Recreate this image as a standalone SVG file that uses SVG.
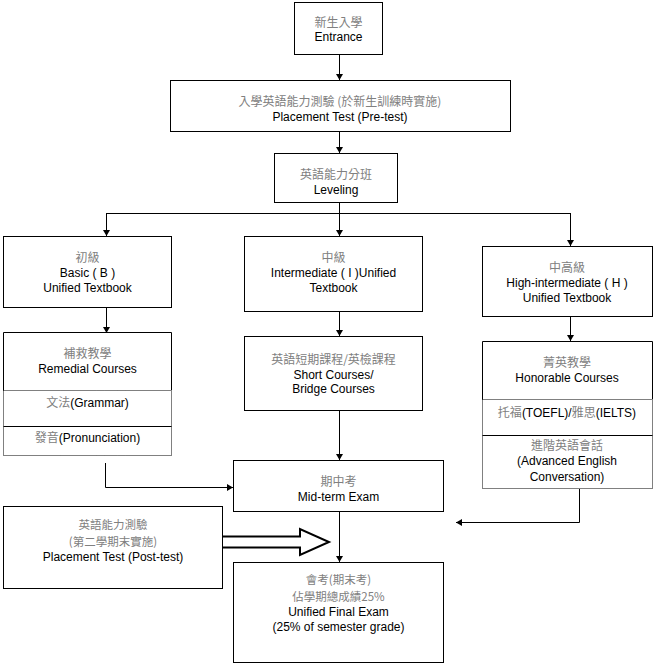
<svg xmlns="http://www.w3.org/2000/svg" width="654" height="666" viewBox="0 0 654 666">
<style>
.box{fill:#fff;stroke:#000;stroke-width:1}
.sol{fill:none;stroke:#000;stroke-width:1}
.dot{fill:none;stroke:#000;stroke-width:1;stroke-dasharray:1,1}
.ln{fill:none;stroke:#000;stroke-width:1}
text{font-family:"Liberation Sans","Noto Sans CJK TC",Arial,sans-serif;font-size:12px;fill:#000;text-anchor:middle}
.zh{fill:#808080;font-size:12px;font-family:"Noto Sans CJK TC","Liberation Sans",sans-serif}
.zs{font-size:11.5px}
</style>
<defs>
<marker id="ah" markerWidth="8" markerHeight="8" refX="6" refY="3.5" orient="auto" markerUnits="userSpaceOnUse">
<path d="M0,0 L6,3.5 L0,7 z" fill="#000"/>
</marker>
</defs>
<rect width="654" height="666" fill="#fff"/>
<g id="connectors">
<line class="ln" x1="339.5" y1="54" x2="339.5" y2="80" marker-end="url(#ah)"/>
<line class="ln" x1="339.5" y1="131" x2="339.5" y2="153" marker-end="url(#ah)"/>
<polyline class="ln" points="339.5,202 339.5,213.5"/>
<line class="ln" x1="106" y1="213.5" x2="571" y2="213.5"/>
<line class="ln" x1="106.5" y1="213.5" x2="106.5" y2="236" marker-end="url(#ah)"/>
<line class="ln" x1="339.5" y1="213.5" x2="339.5" y2="236" marker-end="url(#ah)"/>
<line class="ln" x1="570.5" y1="213.5" x2="570.5" y2="246" marker-end="url(#ah)"/>
<line class="ln" x1="106.5" y1="307" x2="106.5" y2="333" marker-end="url(#ah)"/>
<line class="ln" x1="339.5" y1="311" x2="339.5" y2="336" marker-end="url(#ah)"/>
<line class="ln" x1="570.5" y1="316" x2="570.5" y2="341" marker-end="url(#ah)"/>
<line class="ln" x1="339.5" y1="410" x2="339.5" y2="460" marker-end="url(#ah)"/>
<polyline class="ln" points="105.5,463 105.5,487.5 233,487.5" marker-end="url(#ah)"/>
<polyline class="ln" points="579.5,489 579.5,522.5 456,522.5" marker-end="url(#ah)"/>
<line class="ln" x1="339.5" y1="511" x2="339.5" y2="562" marker-end="url(#ah)"/>
<polygon points="222,536.5 300,536.5 300,529 329,542 300,555 300,547.5 222,547.5" fill="#fff" stroke="#000" stroke-width="2"/>
</g>
<g id="entrance">
<rect class="box" x="294.5" y="2.5" width="88" height="52"/>
<text x="338.5" y="27"><tspan class="zh">新生入學</tspan></text>
<text x="338.5" y="41">Entrance</text>
</g>
<g id="pretest">
<rect class="box" x="170.5" y="80.5" width="340" height="51"/>
<text x="340" y="106"><tspan class="zh">入學英語能力測驗 (於新生訓練時實施)</tspan></text>
<text x="340" y="121">Placement Test (Pre-test)</text>
</g>
<g id="leveling">
<rect class="box" x="274.5" y="153.5" width="123" height="49"/>
<text x="336" y="179"><tspan class="zh">英語能力分班</tspan></text>
<text x="336" y="194">Leveling</text>
</g>
<g id="basic">
<rect class="box" x="3.5" y="236.5" width="168" height="71"/>
<text x="87.5" y="262"><tspan class="zh">初級</tspan></text>
<text x="87.5" y="277">Basic ( B )</text>
<text x="87.5" y="292">Unified Textbook</text>
</g>
<g id="intermediate">
<rect class="box" x="244.5" y="236.5" width="178" height="75"/>
<text x="333.5" y="262"><tspan class="zh">中級</tspan></text>
<text x="333.5" y="277">Intermediate ( I )Unified</text>
<text x="333.5" y="292">Textbook</text>
</g>
<g id="high">
<rect class="box" x="482.5" y="246.5" width="170" height="70"/>
<text x="567" y="272"><tspan class="zh">中高級</tspan></text>
<text x="567" y="287">High-intermediate ( H )</text>
<text x="567" y="302">Unified Textbook</text>
</g>
<g id="remedial">
<path class="sol" d="M3.5,390.5 V332.5 H171.5 V390.5"/>
<path class="dot" d="M3.5,390.5 H171.5 M3.5,390.5 V455.5 H171.5 V390.5"/>
<line class="sol" x1="3.5" y1="426.5" x2="171.5" y2="426.5"/>
<text x="87.5" y="358"><tspan class="zh">補救教學</tspan></text>
<text x="87.5" y="373">Remedial Courses</text>
<text x="87.5" y="407"><tspan class="zh">文法</tspan>(Grammar)</text>
<text x="87.5" y="442"><tspan class="zh">發音</tspan>(Pronunciation)</text>
</g>
<g id="short">
<rect class="box" x="244.5" y="336.5" width="178" height="74"/>
<text x="333.5" y="364"><tspan class="zh">英語短期課程/英檢課程</tspan></text>
<text x="333.5" y="379">Short Courses/</text>
<text x="333.5" y="393">Bridge Courses</text>
</g>
<g id="honorable">
<path class="sol" d="M482.5,399.5 V341.5 H652.5 V399.5"/>
<path class="dot" d="M482.5,399.5 H652.5 M482.5,399.5 V488.5 H652.5 V399.5"/>
<line class="sol" x1="482.5" y1="435.5" x2="652.5" y2="435.5"/>
<text x="567" y="367"><tspan class="zh">菁英教學</tspan></text>
<text x="567" y="382">Honorable Courses</text>
<text x="567" y="417"><tspan class="zh">托福</tspan>(TOEFL)/<tspan class="zh">雅思</tspan>(IELTS)</text>
<text x="567" y="450"><tspan class="zh">進階英語會話</tspan></text>
<text x="567" y="465">(Advanced English</text>
<text x="567" y="481">Conversation)</text>
</g>
<g id="midterm">
<rect class="box" x="233.5" y="460.5" width="210" height="51"/>
<text x="338.5" y="486"><tspan class="zh">期中考</tspan></text>
<text x="338.5" y="501">Mid-term Exam</text>
</g>
<g id="posttest">
<rect class="box" x="3.5" y="506.5" width="219" height="82"/>
<text x="113" y="529"><tspan class="zh zs">英語能力測驗</tspan></text>
<text x="113" y="546"><tspan class="zh zs">(第二學期末實施)</tspan></text>
<text x="113" y="561">Placement Test (Post-test)</text>
</g>
<g id="final">
<rect class="box" x="233.5" y="562.5" width="210" height="100"/>
<text x="338.5" y="584"><tspan class="zh zs">會考(期末考)</tspan></text>
<text x="338.5" y="601"><tspan class="zh zs">佔學期總成績25%</tspan></text>
<text x="338.5" y="616">Unified Final Exam</text>
<text x="338.5" y="631">(25% of semester grade)</text>
</g>
</svg>
